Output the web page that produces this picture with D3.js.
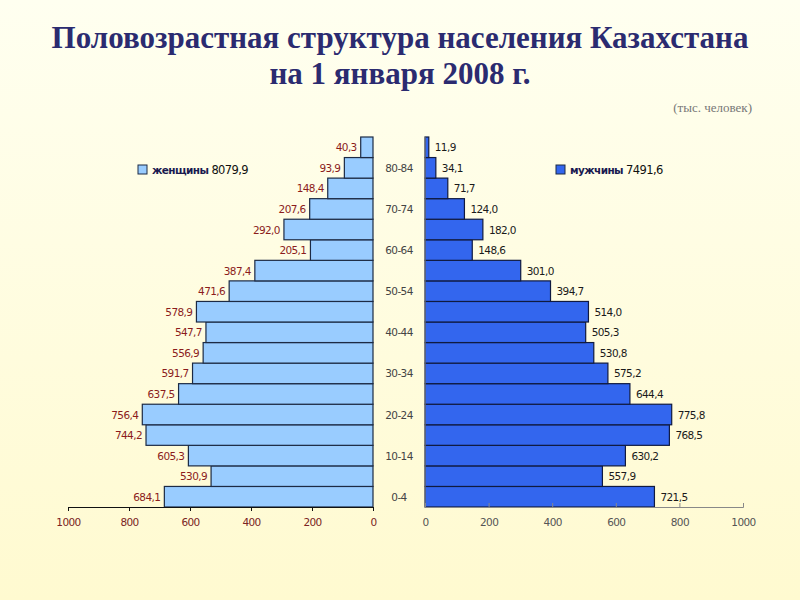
<!DOCTYPE html>
<meta charset="utf-8">
<title>Половозрастная структура населения Казахстана</title>
<body style="margin:0">
<style>
  body { background: #fffde4; }
  .lbl { font-family: "DejaVu Sans", Verdana, sans-serif; font-size: 10.5px; letter-spacing: -0.6px; }
</style>
<div id="chart"></div>
<script src="https://d3js.org/d3.v7.min.js"></script>
<script>

// возрастные группы (снизу вверх)
var ages = ["0-4", "5-9", "10-14", "15-19", "20-24", "25-29", "30-34", "35-39", "40-44",
            "45-49", "50-54", "55-59", "60-64", "65-69", "70-74", "75-79", "80-84", "85+"];
var women = [684.1, 530.9, 605.3, 744.2, 756.4, 637.5, 591.7, 556.9, 547.7,
             578.9, 471.6, 387.4, 205.1, 292.0, 207.6, 148.4, 93.9, 40.3];
var men = [721.5, 557.9, 630.2, 768.5, 775.8, 644.4, 575.2, 530.8, 505.3,
           514.0, 394.7, 301.0, 148.6, 182.0, 124.0, 71.7, 34.1, 11.9];
var ticks = [0, 200, 400, 600, 800, 1000];
var womenTotal = "8079,9", menTotal = "7491,6";

var fmt = function (v) { return v.toFixed(1).replace(".", ","); };

var svg = d3.select("#chart").append("svg")
  .attr("width", 800)
  .attr("height", 600);

// фон
var grad = svg.append("defs").append("linearGradient")
  .attr("id", "bg").attr("x1", 0).attr("y1", 0).attr("x2", 0).attr("y2", 1);
grad.append("stop").attr("offset", "0%").attr("stop-color", "#fffff0");
grad.append("stop").attr("offset", "100%").attr("stop-color", "#fffad0");
svg.append("rect").attr("width", 800).attr("height", 600).attr("fill", "url(#bg)");

// заголовок
svg.append("text")
  .attr("x", 400).attr("y", 48)
  .attr("text-anchor", "middle")
  .style("font-family", "'Liberation Serif', 'Times New Roman', serif")
  .style("font-weight", "bold").style("font-size", "31px")
  .attr("fill", "#2b2b70")
  .text("Половозрастная структура населения Казахстана");
svg.append("text")
  .attr("x", 400).attr("y", 84)
  .attr("text-anchor", "middle")
  .style("font-family", "'Liberation Serif', 'Times New Roman', serif")
  .style("font-weight", "bold").style("font-size", "31px")
  .attr("fill", "#2b2b70")
  .text("на 1 января 2008 г.");
svg.append("text")
  .attr("x", 752).attr("y", 112)
  .attr("text-anchor", "end")
  .style("font-family", "'Liberation Serif', 'Times New Roman', serif")
  .style("font-size", "13px")
  .attr("fill", "#777")
  .text("(тыс. человек)");

// шкалы
var y = d3.scaleBand()
  .domain(ages.slice().reverse())
  .range([137, 507])
  .padding(0);

var xl = d3.scaleLinear().domain([0, 1000]).range([373, 68]);
var xr = d3.scaleLinear().domain([0, 1000]).range([425, 743]);

// женщины
svg.append("g").selectAll("rect")
  .data(ages)
  .enter().append("rect")
    .attr("x", function (d, i) { return xl(women[i]); })
    .attr("y", function (d) { return y(d); })
    .attr("width", function (d, i) { return xl(0) - xl(women[i]); })
    .attr("height", y.bandwidth())
    .attr("fill", "#99ccff")
    .attr("stroke", "#1c2a44")
    .attr("stroke-width", 1.2);

svg.append("g").selectAll("text")
  .data(ages)
  .enter().append("text")
    .attr("class", "lbl")
    .attr("x", function (d, i) { return xl(women[i]) - 4; })
    .attr("y", function (d) { return y(d) + y.bandwidth() / 2 + 4; })
    .attr("text-anchor", "end")
    .attr("fill", "#8b1c1c")
    .text(function (d, i) { return fmt(women[i]); });

// мужчины
svg.append("g").selectAll("rect")
  .data(ages)
  .enter().append("rect")
    .attr("x", xr(0))
    .attr("y", function (d) { return y(d); })
    .attr("width", function (d, i) { return xr(men[i]) - xr(0); })
    .attr("height", y.bandwidth())
    .attr("fill", "#3366ee")
    .attr("stroke", "#101a40")
    .attr("stroke-width", 1.2);

svg.append("g").selectAll("text")
  .data(ages)
  .enter().append("text")
    .attr("class", "lbl")
    .attr("x", function (d, i) { return xr(men[i]) + 6; })
    .attr("y", function (d) { return y(d) + y.bandwidth() / 2 + 4; })
    .attr("fill", "#1a1a1a")
    .text(function (d, i) { return fmt(men[i]); });

// подписи возрастов
svg.append("g").selectAll("text")
  .data(ages.filter(function (d, i) { return i % 2 === 0; }))
  .enter().append("text")
    .attr("class", "lbl")
    .attr("x", 399)
    .attr("y", function (d) { return y(d) + y.bandwidth() / 2 + 4; })
    .attr("text-anchor", "middle")
    .attr("fill", "#444")
    .text(function (d) { return d; });

// оси
var axL = svg.append("g")
  .attr("transform", "translate(0,507)")
  .call(d3.axisBottom(xl).tickValues(ticks).tickFormat(d3.format("d")).tickSize(4).tickPadding(8));
axL.select(".domain").attr("stroke", "#111");
axL.selectAll(".tick line").attr("stroke", "#111");
axL.selectAll("text").attr("class", "lbl").attr("fill", "#7a2424");

var axR = svg.append("g")
  .attr("transform", "translate(0,507)")
  .call(d3.axisBottom(xr).tickValues(ticks).tickFormat(d3.format("d")).tickSize(-4).tickPadding(12));
axR.select(".domain").attr("stroke", "#888");
axR.selectAll(".tick line").attr("stroke", "#888");
axR.selectAll("text").attr("class", "lbl").attr("fill", "#555");

svg.append("line")
  .attr("x1", xr(0)).attr("x2", xr(0))
  .attr("y1", 137).attr("y2", 507)
  .attr("stroke", "#888");

// легенда
function legend(x, color, word, total) {
  svg.append("rect")
    .attr("x", x).attr("y", 165)
    .attr("width", 9).attr("height", 9)
    .attr("fill", color).attr("stroke", "#1c2a44");
  var t = svg.append("text")
    .attr("class", "lbl")
    .attr("x", x + 14).attr("y", 174)
    .attr("fill", "#111");
  t.append("tspan").style("font-weight", "bold").attr("fill", "#1a1a50").text(word + " ");
  t.append("tspan").style("font-size", "11.5px").text(total);
}
legend(138, "#99ccff", "женщины", womenTotal);
legend(556, "#3366ee", "мужчины", menTotal);

</script>
